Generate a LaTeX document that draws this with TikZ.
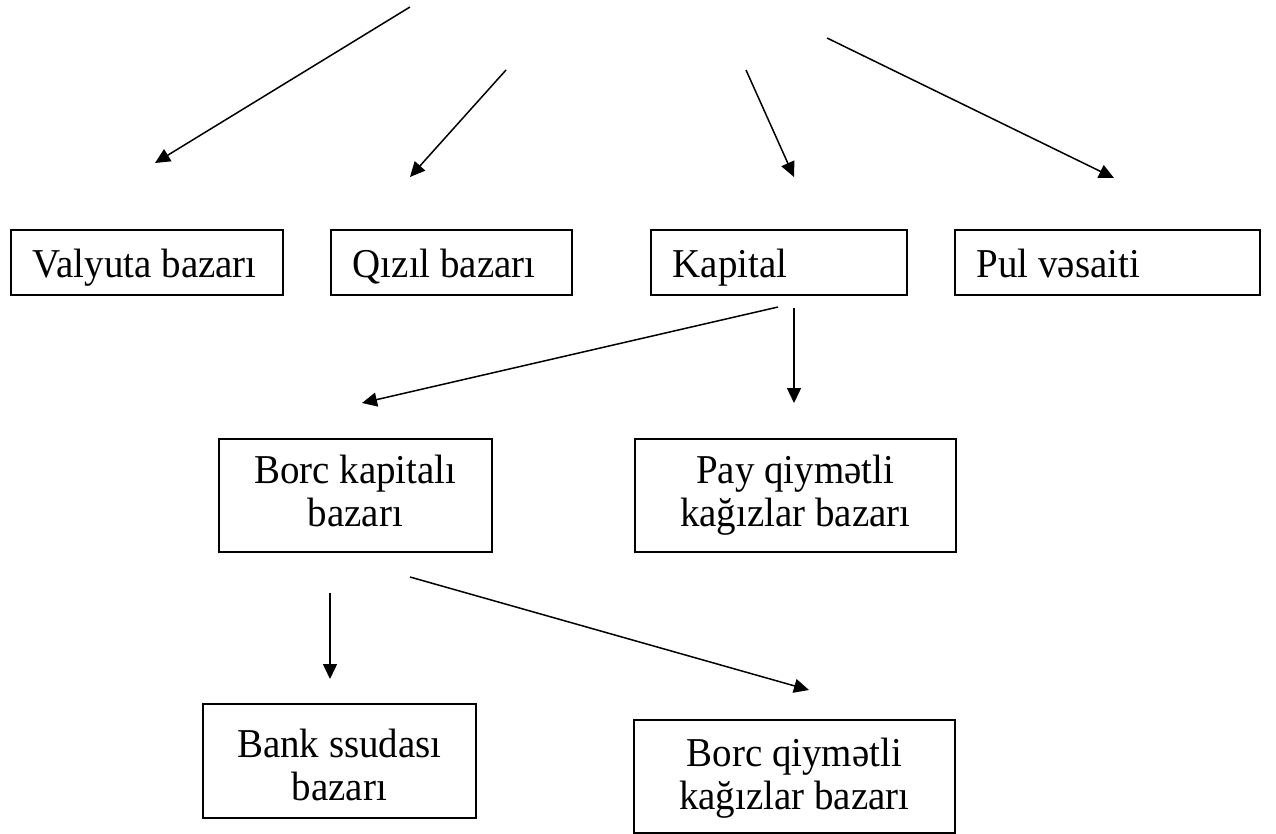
\documentclass[tikz,border=0pt]{standalone}
\usepackage{fontspec}
\setmainfont{Liberation Serif}[FakeStretch=0.95]
\usetikzlibrary{arrows.meta}
\newcommand{\twolines}[2]{\begin{tabular}[t]{@{}c@{}}#1\\#2\end{tabular}}
\newcommand{\oneline}[2]{\makebox[#1][l]{#2}}
\tikzset{
  conn/.style={line width=1.5pt, -{Triangle[length=15pt,width=14pt]}},
  onebox/.style={draw, line width=1.6pt, anchor=north west, inner xsep=22pt, inner ysep=0pt,
     text height=48pt, text depth=17pt, minimum height=65pt,
     font=\fontsize{41}{43}\selectfont},
  twobox/.style={draw, line width=1.6pt, anchor=north west, inner xsep=0pt, inner ysep=0pt,
     font=\fontsize{41}{43}\selectfont}
}
\begin{document}
\begin{tikzpicture}[x=1pt,y=-1pt]
\useasboundingbox (0,0) rectangle (1276,834);
% top row boxes
\node[onebox] (valyuta) at (10,229) {\oneline{228pt}{Valyuta bazarı}};
\node[onebox] (qizil) at (330,229) {\oneline{197pt}{Qızıl bazarı}};
\node[onebox] (kapital) at (650,229) {\oneline{212pt}{Kapital}};
\node[onebox] (pul) at (954,229) {\oneline{261pt}{Pul vəsaiti}};
% second row
\node[twobox, minimum width=273pt, text height=45pt, text depth=68pt] (borck) at (218,438) {\twolines{Borc kapitalı}{bazarı}};
\node[twobox, minimum width=321pt, text height=45pt, text depth=68pt] (pay) at (634,438) {\twolines{Pay qiymətli}{kağızlar bazarı}};
% third row
\node[twobox, minimum width=273pt, text height=54pt, text depth=60pt] (bank) at (202,703) {\twolines{Bank ssudası}{bazarı}};
\node[twobox, minimum width=321pt, text height=47pt, text depth=66pt] (borcq) at (633,719) {\twolines{Borc qiymətli}{kağızlar bazarı}};
% arrow end points
\coordinate (a1s) at (410,7);   \coordinate (a1e) at (155,163);
\coordinate (a2s) at (506,70);  \coordinate (a2e) at (410,177);
\coordinate (a3s) at (746,70);  \coordinate (a3e) at (794,177);
\coordinate (a4s) at (827,38);  \coordinate (a4e) at (1114,178);
\coordinate (a5s) at (778,307); \coordinate (a5e) at (362,403);
\coordinate (a6s) at (794,308); \coordinate (a6e) at (794,403);
\coordinate (a7s) at (330,593); \coordinate (a7e) at (330,679);
\coordinate (a8s) at (410,577); \coordinate (a8e) at (809,690);
\draw[conn] (a1s) -- (a1e);
\draw[conn] (a2s) -- (a2e);
\draw[conn] (a3s) -- (a3e);
\draw[conn] (a4s) -- (a4e);
\draw[conn] (a5s) -- (a5e);
\draw[conn] (a6s) -- (a6e);
\draw[conn] (a7s) -- (a7e);
\draw[conn] (a8s) -- (a8e);
\end{tikzpicture}
\end{document}
